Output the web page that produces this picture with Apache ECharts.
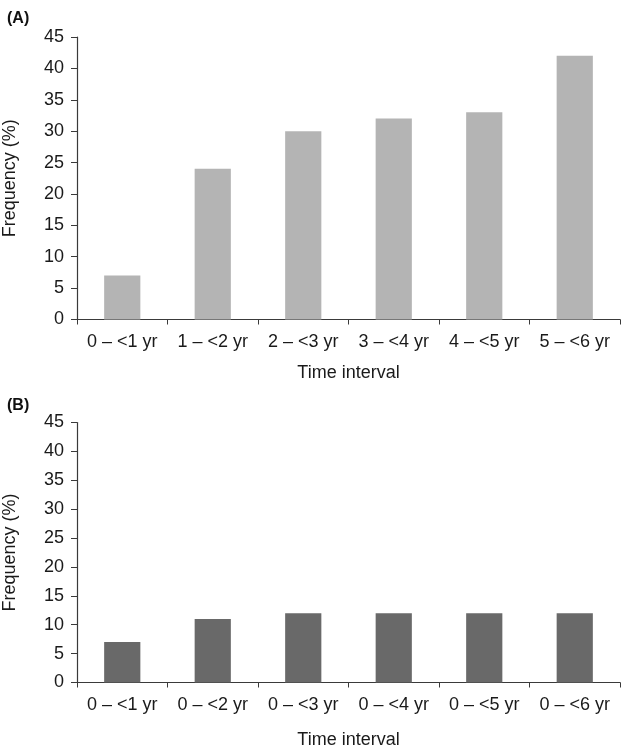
<!DOCTYPE html>
<html>
<head>
<meta charset="utf-8">
<script src="https://cdn.jsdelivr.net/npm/echarts@6/dist/echarts.min.js"></script>
<style>
html,body{margin:0;padding:0;background:#fff;}
#chart{width:624px;height:750px;}
</style>
</head>
<body>
<div id="chart"></div>
<script>
var categoriesA = ['0 – <1 yr', '1 – <2 yr', '2 – <3 yr', '3 – <4 yr', '4 – <5 yr', '5 – <6 yr'];
var valuesA = [7, 24, 30, 32, 33, 42];
var categoriesB = ['0 – <1 yr', '0 – <2 yr', '0 – <3 yr', '0 – <4 yr', '0 – <5 yr', '0 – <6 yr'];
var valuesB = [7, 11, 12, 12, 12, 12];
var panelLabels = ['(A)', '(B)'];
var xAxisTitle = 'Time interval';
var yAxisTitle = 'Frequency (%)';

var FONT = '"Liberation Sans", Arial, Helvetica, sans-serif';
var axisColor = '#3a3a3a';
var textColor = '#1a1a1a';

function xAxisCfg(idx, cats, nameGap) {
  return {
    type: 'category', gridIndex: idx, data: cats,
    name: xAxisTitle, nameLocation: 'middle', nameGap: nameGap,
    nameTextStyle: {fontFamily: FONT, fontSize: 18, color: textColor},
    axisLine: {lineStyle: {color: axisColor, width: 1.2}},
    axisTick: {show: true, length: 5, lineStyle: {color: axisColor}, alignWithLabel: false},
    axisLabel: {fontFamily: FONT, fontSize: 18, color: textColor, margin: 14, interval: 0},
    splitLine: {show: false}
  };
}
function yAxisCfg(idx) {
  return {
    type: 'value', gridIndex: idx, min: 0, max: 45, interval: 5,
    name: yAxisTitle, nameLocation: 'middle', nameGap: 58, nameRotate: 90,
    nameTextStyle: {fontFamily: FONT, fontSize: 18, color: textColor},
    axisLine: {show: true, lineStyle: {color: axisColor, width: 1.2}},
    axisTick: {show: true, length: 6, lineStyle: {color: axisColor}},
    axisLabel: {fontFamily: FONT, fontSize: 18, color: textColor, margin: 13},
    splitLine: {show: false}
  };
}

var chart = echarts.init(document.getElementById('chart'), null, {renderer: 'canvas'});
chart.setOption({
  animation: false,
  backgroundColor: '#ffffff',
  title: [
    {text: panelLabels[0], left: 2, top: 6, textStyle: {fontFamily: FONT, fontSize: 16, fontWeight: 'bold', color: '#111'}},
    {text: panelLabels[1], left: 2, top: 393, textStyle: {fontFamily: FONT, fontSize: 16, fontWeight: 'bold', color: '#111'}}
  ],
  grid: [
    {left: 77, right: 4, top: 37, height: 282.5, containLabel: false, outerBoundsMode: 'none'},
    {left: 77, right: 4, top: 422.5, height: 260, containLabel: false, outerBoundsMode: 'none'}
  ],
  xAxis: [xAxisCfg(0, categoriesA, 45), xAxisCfg(1, categoriesB, 49)],
  yAxis: [yAxisCfg(0), yAxisCfg(1)],
  series: [
    {type: 'bar', xAxisIndex: 0, yAxisIndex: 0, data: valuesA, barWidth: '40%', itemStyle: {color: '#b4b4b4'}},
    {type: 'bar', xAxisIndex: 1, yAxisIndex: 1, data: valuesB, barWidth: '40%', itemStyle: {color: '#696969'}}
  ]
});
</script>
</body>
</html>
